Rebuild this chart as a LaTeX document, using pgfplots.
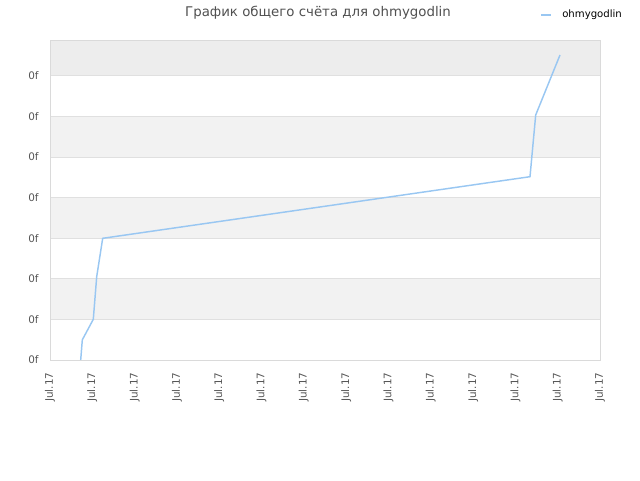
\documentclass[border=0pt]{standalone}
\usepackage{pgfplots}
\pgfplotsset{compat=1.18}
\usepackage{fontspec}
\setmainfont{DejaVu Sans}
\definecolor{linec}{RGB}{153,199,242}
\definecolor{bandA}{RGB}{242,242,242}
\definecolor{bandTop}{RGB}{237,237,237}
\definecolor{gridc}{RGB}{224,224,224}
\definecolor{framec}{RGB}{218,218,218}
\definecolor{tickc}{RGB}{85,85,85}
\definecolor{titlec}{RGB}{80,80,80}
\begin{document}
\begin{tikzpicture}
\path (0,0) rectangle (480pt,360pt);
\node[text=titlec, font=\fontsize{10}{12}\selectfont] at (238.5pt,350.25pt) {График общего счёта для ohmygodlin};
\draw[linec, line width=1.1pt] (405.75pt,348.75pt) -- (413.25pt,348.75pt);
\node[anchor=west, font=\fontsize{7.6}{9}\selectfont, inner sep=0pt] at (421.5pt,348.75pt) {ohmygodlin};
\begin{axis}[
  set layers,
  at={(37.5pt,90pt)}, anchor=south west,
  scale only axis, width=412.5pt, height=240pt,
  xmin=50, xmax=600, ymin=0, ymax=320,
  axis line style={framec},
  xtick={50,92.3,134.6,176.9,219.2,261.5,303.8,346.2,388.5,430.8,473.1,515.4,557.7,600},
  xticklabels={Jul.17,Jul.17,Jul.17,Jul.17,Jul.17,Jul.17,Jul.17,Jul.17,Jul.17,Jul.17,Jul.17,Jul.17,Jul.17,Jul.17},
  ytick={0,40.6,81.2,121.8,162.4,203,243.6,284.2},
  yticklabels={0f,0f,0f,0f,0f,0f,0f,0f},
  major tick length=0pt,
  ymajorgrids, grid style={gridc, line width=0.6pt},
  x tick label style={rotate=90, anchor=east, font=\fontsize{7.8}{9}\selectfont, text=tickc},
  y tick label style={font=\fontsize{7.8}{9}\selectfont, text=tickc},
  xticklabel shift=6pt,
  yticklabel shift=5pt,
]
\begin{pgfonlayer}{axis background}
\fill[bandA] (axis cs:50,40.6) rectangle (axis cs:600,81.2);
\fill[bandA] (axis cs:50,121.8) rectangle (axis cs:600,162.4);
\fill[bandA] (axis cs:50,203) rectangle (axis cs:600,243.6);
\fill[bandTop] (axis cs:50,284.2) rectangle (axis cs:600,320);
\end{pgfonlayer}
\addplot[linec, line width=1.1pt, mark=none] coordinates {
(80.7,0) (82.3,20) (83.3,22) (93.3,40.7) (96.7,83.3) (102.7,121.7) (530,183.3) (535.7,245) (560,305)
};
\end{axis}
\end{tikzpicture}
\end{document}
